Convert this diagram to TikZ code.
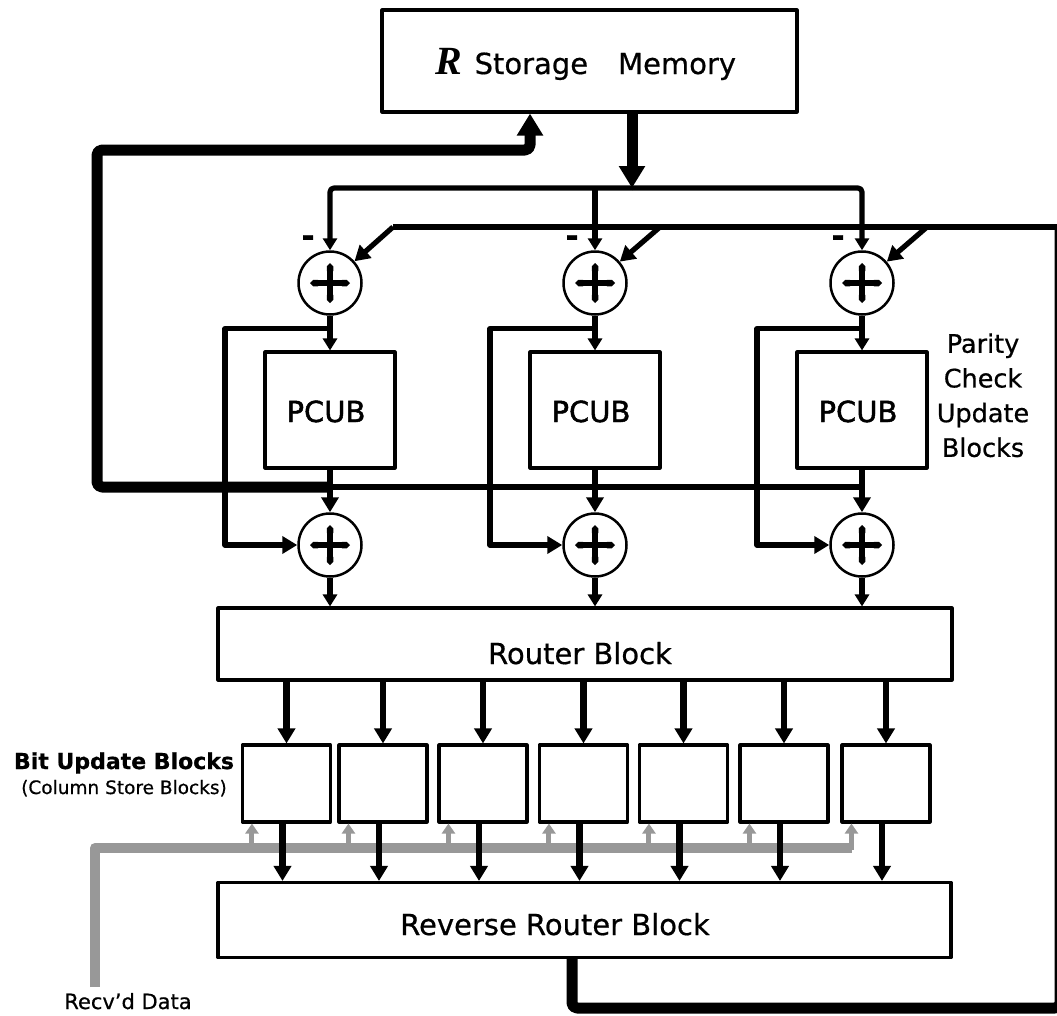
\documentclass[tikz,border=0pt]{standalone}
\usepackage{fontspec}
\setmainfont{DejaVu Sans}[FakeBold=0.6]
\newfontfamily\pcubfont{DejaVu Sans}[FakeBold=1.6]
\newfontfamily\rfont{Liberation Serif}
\usetikzlibrary{arrows.meta,calc}
\definecolor{busgray}{RGB}{152,152,152}
\tikzset{
  blk/.style={draw, line width=3.1pt, inner sep=0pt},
  adder/.style={circle, draw, line width=2.5pt, minimum size=63pt, inner sep=0pt},
  lnM/.style={line width=5.2pt},
  lnT/.style={line width=6.5pt},
  lnB/.style={line width=11pt},
  arS/.style={-{Triangle[length=12pt,width=14pt]}},
  arM/.style={-{Triangle[length=15pt,width=17pt]}},
  arL/.style={-{Triangle[length=22pt,width=25pt]}},
  plusarm/.style={line width=6.5pt, {Triangle Cap[]}-{Triangle Cap[]}},
  gbus/.style={line width=10pt, draw=busgray},
  garrow/.style={line width=5pt, draw=busgray, fill=busgray, -{Triangle[length=10pt,width=13pt]}},
  lbl/.style={anchor=base, inner sep=0pt},
}
\begin{document}
\begin{tikzpicture}[x=1pt, y=-1pt, line join=round, font=\fontsize{29}{34}\selectfont]
\useasboundingbox (0,0) rectangle (1057,1015);

% ---- memory ----
\node[blk, minimum width=415pt, minimum height=102pt] (mem) at (589.5,61) {};
\node[lbl] (memlbl) at (586,74) {{\rfont\bfseries\itshape\fontsize{40}{40}\selectfont R}\hspace{12pt}Storage\hspace{30pt}Memory};

% ---- parity check update blocks ----
\foreach \i/\x in {1/330, 2/595, 3/862} {
  \node[blk, minimum width=130pt, minimum height=116pt] (p\i) at (\x,410) {};
  \node[lbl, font=\pcubfont\fontsize{29}{34}\selectfont] (pt\i) at (\x-4,422) {PCUB};
  \node[adder] (u\i) at (\x,283) {};
  \node[adder] (l\i) at (\x,545) {};
}
\node[align=center, font=\fontsize{25.5}{34.7}\selectfont, inner sep=0pt] (pcl) at (983,395.3) {Parity\\Check\\Update\\Blocks};

% ---- router blocks ----
\node[blk, minimum width=734pt, minimum height=72pt] (router) at (585,644) {};
\node[lbl] (routerlbl) at (580,664) {Router Block};
\node[blk, minimum width=733pt, minimum height=75pt] (rr) at (584.5,920) {};
\node[lbl] (rrlbl) at (555,935) {Reverse Router Block};

% ---- bit update blocks ----
\foreach \i/\x in {1/286.5, 2/383, 3/483, 4/583.5, 5/683.5, 6/784, 7/886} {
  \node[blk, minimum width=88pt, minimum height=77pt] (b\i) at (\x,783.5) {};
}
\node[lbl, font=\bfseries\fontsize{22}{26}\selectfont] (bub) at (124,769) {Bit Update Blocks};
\node[lbl, font=\fontsize{18.5}{22}\selectfont] (csb) at (124,794) {(Column Store Blocks)};
\node[lbl, font=\fontsize{21}{24}\selectfont] (recv) at (128,1009) {Recv’d Data};

% ---- minus signs on the upper adders ----
\foreach \i/\x in {1/308, 2/572, 3/838} {
  \node[font=\bfseries\fontsize{32}{32}\selectfont, inner sep=0pt] (mn\i) at (\x,241) {-};
}

% ---- coordinates for bus routing ----
\coordinate (j0) at (632,188);
\coordinate (k1) at (330,487);
\coordinate (k3) at (862,487);
\coordinate (m1) at (97,487);
\coordinate (m2) at (97,150);
\coordinate (m3) at (530,150);
\coordinate (d1) at (393,227);
\coordinate (d2) at (660,227);
\coordinate (d3) at (927,227);
\coordinate (r1) at (572,1008);
\coordinate (r2) at (1060,1008);
\coordinate (r3) at (1060,227);
\coordinate (g0) at (95,987);
\coordinate (g1) at (95,848);
\coordinate (g2) at (852,848);

% memory read bus
\draw[lnB, arL] (mem.south -| j0) -- (j0);
\draw[lnM, arS, rounded corners=4pt] (j0) -| (u1);
\draw[lnM, arS, rounded corners=4pt] (j0) -| (u3);
\draw[lnM, arS] (j0 -| u2) -- (u2);

% feedback from the reverse router to the adders
\draw[lnB, rounded corners=5pt] (rr.south -| r1) -- (r1) -- (r2) -- ($(r3)+(0,-2)$);
\draw[lnM] (r3) -- (d1);
\draw[lnM, arM] (d1) -- (u1);
\draw[lnM, arM] (d2) -- (u2);
\draw[lnM, arM] (d3) -- (u3);

% write-back bus to the memory
\draw[lnT] (k3) -- (k1);
\draw[lnB, arL, rounded corners=5pt] (k1) -- (m1) -- (m2) -- (m3) -- (m3 |- mem.south);

% adder / PCUB columns
\foreach \i in {1,2,3} {
  \draw[lnM, arS] (u\i) -- (p\i.north);
  \path (u\i.south) ++(0,13) coordinate (s\i);
  \draw[lnM, arM] (s\i) -- ++(-105,0) |- (l\i);
  \draw[lnT, arM] (p\i.south) -- (l\i);
  \draw[lnM, arS] (l\i) -- (l\i |- router.north);
}

% plus signs inside the adders
\foreach \n in {u1,u2,u3,l1,l2,l3} {
  \draw[plusarm] ($(\n)+(-20,0)$) -- ($(\n)+(20,0)$);
  \draw[plusarm] ($(\n)+(0,-20)$) -- ($(\n)+(0,20)$);
}

% received data bus
\draw[gbus] (g0) -- (g1) -- (g2);
\foreach \i in {1,...,7} {
  \draw[garrow] ($(b\i.south west)+(11,26)$) -- ($(b\i.south west)+(11,0)$);
}

% router to bit blocks, bit blocks to reverse router
\foreach \i in {1,...,7} {
  \draw[lnT, arM] (b\i.north |- router.south) -- (b\i.north);
  \draw[lnT, arM] ($(b\i.south)+(-4,0)$) -- ($(b\i.south |- rr.north)+(-4,0)$);
}
\end{tikzpicture}
\end{document}
